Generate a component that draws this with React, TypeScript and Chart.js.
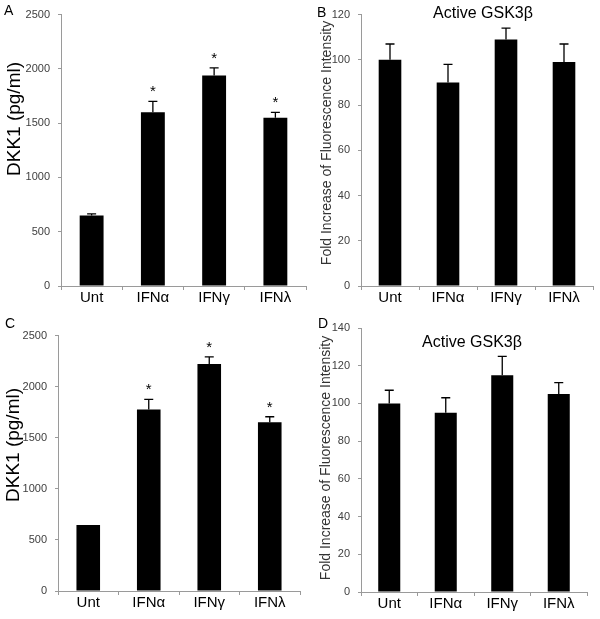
import React, { useEffect, useRef } from "react";
import { Chart, registerables } from "chart.js";
Chart.register(...registerables);

const FONT = '"Liberation Sans", Arial, Helvetica, sans-serif';
const AXIS = "#9a9a9a";

const categories = ["Unt", "IFNα", "IFNγ", "IFNλ"];

const dkk1A = [650, 1600, 1940, 1550];
const dkk1AErr = [15, 100, 70, 50];
const starsA = [false, true, true, true];

const gskB = [100, 90, 109, 99];
const gskBErr = [7, 8, 5, 8];
const starsB = [false, false, false, false];

const dkk1C = [645, 1775, 2220, 1650];
const dkk1CErr = [0, 100, 70, 55];
const starsC = [false, true, true, true];

const gskD = [100, 95, 115, 105];
const gskDErr = [7, 8, 10, 6];
const starsD = [false, false, false, false];

const dkkTicks = [0, 500, 1000, 1500, 2000, 2500];
const gskTicksB = [0, 20, 40, 60, 80, 100, 120];
const gskTicksD = [0, 20, 40, 60, 80, 100, 120, 140];

const dkkTitle = "DKK1 (pg/ml)";
const gskYTitle = "Fold Increase of Fluorescence Intensity";
const gskTitle = "Active GSK3β";

type Cfg = {
  letter: string;
  letterPos: [number, number];
  box: { left: number; top: number; width: number; height: number };
  area: { left: number; top: number; right: number; bottom: number };
  values: number[];
  errors: number[];
  stars: boolean[];
  ticks: number[];
  yTitle: string;
  yTitlePos: [number, number];
  yTitleSize: number;
  yTitleColor: string;
  title?: string;
  titlePos?: [number, number];
};

const panels: Cfg[] = [
  {
    letter: "A",
    letterPos: [4, 15],
    box: { left: 0, top: 0, width: 310, height: 305 },
    area: { left: 61, top: 11, right: 306, bottom: 286 },
    values: dkk1A,
    errors: dkk1AErr,
    stars: starsA,
    ticks: dkkTicks,
    yTitle: dkkTitle,
    yTitlePos: [15, 119],
    yTitleSize: 19,
    yTitleColor: "#000",
  },
  {
    letter: "B",
    letterPos: [17, 16.5],
    box: { left: 300, top: 0, width: 300, height: 305 },
    area: { left: 61, top: 11, right: 293, bottom: 286 },
    values: gskB,
    errors: gskBErr,
    stars: starsB,
    ticks: gskTicksB,
    yTitle: gskYTitle,
    yTitlePos: [27, 143],
    yTitleSize: 14,
    yTitleColor: "#333",
    title: gskTitle,
    titlePos: [183, 18],
  },
  {
    letter: "C",
    letterPos: [5, 23],
    box: { left: 0, top: 305, width: 305, height: 314 },
    area: { left: 58, top: 30.5, right: 300, bottom: 286 },
    values: dkk1C,
    errors: dkk1CErr,
    stars: starsC,
    ticks: dkkTicks,
    yTitle: dkkTitle,
    yTitlePos: [14, 140],
    yTitleSize: 19,
    yTitleColor: "#000",
  },
  {
    letter: "D",
    letterPos: [18, 23],
    box: { left: 300, top: 305, width: 300, height: 314 },
    area: { left: 61, top: 23, right: 287, bottom: 287 },
    values: gskD,
    errors: gskDErr,
    stars: starsD,
    ticks: gskTicksD,
    yTitle: gskYTitle,
    yTitlePos: [26, 153],
    yTitleSize: 14,
    yTitleColor: "#333",
    title: gskTitle,
    titlePos: [172, 42],
  },
];

function Panel({ cfg }: { cfg: Cfg }) {
  const ref = useRef<HTMLCanvasElement | null>(null);

  useEffect(() => {
    const canvas = ref.current;
    if (!canvas) return;
    const { box, area } = cfg;

    const overlay = {
      id: "overlay",
      afterDatasetsDraw(chart: any) {
        const ctx = chart.ctx;
        const meta = chart.getDatasetMeta(0);
        const ys = chart.scales.y;
        ctx.save();
        ctx.strokeStyle = "#000";
        ctx.fillStyle = "#000";
        ctx.lineWidth = 1.3;
        meta.data.forEach((bar: any, i: number) => {
          const e = cfg.errors[i];
          const topPx = ys.getPixelForValue(cfg.values[i] + e);
          if (e > 0) {
            ctx.beginPath();
            ctx.moveTo(bar.x, bar.y);
            ctx.lineTo(bar.x, topPx);
            ctx.moveTo(bar.x - 4.5, topPx);
            ctx.lineTo(bar.x + 4.5, topPx);
            ctx.stroke();
          }
          if (cfg.stars[i]) {
            ctx.font = `15px ${FONT}`;
            ctx.textAlign = "center";
            ctx.textBaseline = "alphabetic";
            ctx.fillText("*", bar.x, topPx - 5);
          }
        });
        ctx.restore();
      },
      afterDraw(chart: any) {
        const ctx = chart.ctx;
        ctx.save();
        ctx.fillStyle = "#000";
        ctx.font = `14px ${FONT}`;
        ctx.textAlign = "left";
        ctx.textBaseline = "alphabetic";
        ctx.fillText(cfg.letter, cfg.letterPos[0], cfg.letterPos[1]);
        if (cfg.title && cfg.titlePos) {
          ctx.font = `16px ${FONT}`;
          ctx.textAlign = "center";
          ctx.fillText(cfg.title, cfg.titlePos[0], cfg.titlePos[1]);
        }
        ctx.translate(cfg.yTitlePos[0], cfg.yTitlePos[1]);
        ctx.rotate(-Math.PI / 2);
        ctx.fillStyle = cfg.yTitleColor;
        ctx.font = `${cfg.yTitleSize}px ${FONT}`;
        ctx.textAlign = "center";
        ctx.textBaseline = "middle";
        ctx.fillText(cfg.yTitle, 0, 0);
        ctx.restore();
      },
    };

    const chart = new Chart(canvas, {
      type: "bar",
      data: {
        labels: categories,
        datasets: [
          {
            data: cfg.values,
            backgroundColor: "#000",
            borderWidth: 0,
            barPercentage: 0.39,
            categoryPercentage: 1,
          },
        ],
      },
      options: {
        responsive: false,
        animation: false,
        devicePixelRatio: 1,
        layout: {
          padding: { left: 0, top: area.top, right: box.width - area.right, bottom: 0 },
        },
        plugins: {
          legend: { display: false },
          tooltip: { enabled: false },
          title: { display: false },
        },
        scales: {
          x: {
            grid: {
              display: true,
              drawOnChartArea: false,
              drawTicks: true,
              tickLength: 4,
              color: AXIS,
              offset: true,
            },
            border: { display: true, color: AXIS, width: 1 },
            ticks: {
              color: "#000",
              font: { family: FONT, size: 15 },
              padding: -1,
              maxRotation: 0,
              autoSkip: false,
            },
            afterFit: (s: any) => {
              s.height = box.height - area.bottom;
            },
          },
          y: {
            min: 0,
            max: cfg.ticks[cfg.ticks.length - 1],
            afterBuildTicks: (s: any) => {
              s.ticks = cfg.ticks.map((v) => ({ value: v }));
            },
            grid: {
              display: true,
              drawOnChartArea: false,
              drawTicks: true,
              tickLength: 3,
              color: AXIS,
            },
            border: { display: true, color: AXIS, width: 1 },
            ticks: {
              color: "#404040",
              font: { family: FONT, size: 11 },
              padding: 8,
              callback: (v: any) => String(v),
            },
            afterFit: (s: any) => {
              s.width = area.left;
            },
          },
        },
      },
      plugins: [overlay],
    } as any);

    return () => chart.destroy();
  }, [cfg]);

  return (
    <canvas
      ref={ref}
      width={cfg.box.width}
      height={cfg.box.height}
      style={{
        position: "absolute",
        left: cfg.box.left,
        top: cfg.box.top,
        width: cfg.box.width,
        height: cfg.box.height,
      }}
    />
  );
}

export default function App() {
  return (
    <div
      style={{
        position: "fixed",
        left: 0,
        top: 0,
        width: 600,
        height: 619,
        background: "#fff",
        overflow: "hidden",
      }}
    >
      {panels.map((p) => (
        <Panel key={p.letter} cfg={p} />
      ))}
    </div>
  );
}
